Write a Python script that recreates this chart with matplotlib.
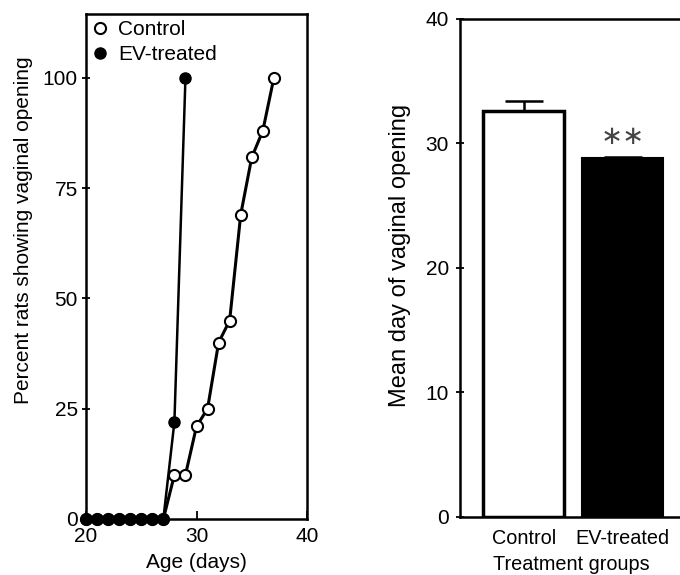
import matplotlib
matplotlib.use("Agg")
import matplotlib.pyplot as plt
from matplotlib.lines import Line2D

plt.rcParams['font.family'] = ['Liberation Sans', 'DejaVu Sans']

# Left panel data
ev_days = [20, 21, 22, 23, 24, 25, 26, 27, 28, 29]
ev_pct = [0, 0, 0, 0, 0, 0, 0, 0, 22, 100]
ctrl_days = [20, 21, 22, 23, 24, 25, 26, 27, 28, 29, 30, 31, 32, 33, 34, 35, 36, 37]
ctrl_pct = [0, 0, 0, 0, 0, 0, 0, 0, 10, 10, 21, 25, 40, 45, 69, 82, 88, 100]
left_yticks = [0, 25, 50, 75, 100]
left_xticks = [20, 30, 40]

# Right panel data
groups = ["Control", "EV-treated"]
means = [32.6, 28.8]
errs = [0.8, 0.1]
right_yticks = [0, 10, 20, 30, 40]

FS = 15
W, H = 680, 575
fig = plt.figure(figsize=(6.8, 5.75), dpi=100)

# ---- Left panel ----
ax1 = fig.add_axes([86/W, 1-519/H, 221/W, 505/H])
ax1.plot(ctrl_days, ctrl_pct, color='black', lw=2.2, marker='o', ms=8,
         mfc='white', mec='black', mew=1.5, clip_on=False, zorder=3)
ax1.plot(ev_days, ev_pct, color='black', lw=1.8, marker='o', ms=8,
         mfc='black', mec='black', clip_on=False, zorder=4)
ax1.set_xlim(20, 40)
ax1.set_ylim(0, 114.5)
ax1.set_xticks(left_xticks)
ax1.set_yticks(left_yticks)
ax1.tick_params(axis='y', direction='inout', length=6, width=1.3, labelsize=FS, pad=3)
ax1.tick_params(axis='x', direction='in', length=6, width=1.3, labelsize=FS, pad=6)
for s in ax1.spines.values():
    s.set_linewidth(1.8)
ax1.set_xlabel("Age (days)", fontsize=FS, labelpad=5)
ax1.set_ylabel("Percent rats showing vaginal opening", fontsize=FS)
ax1.yaxis.set_label_coords((33 - 86) / 221, (519 - 230) / 505)
handles = [
    Line2D([], [], ls='none', marker='o', ms=8, mfc='white', mec='black', mew=1.5),
    Line2D([], [], ls='none', marker='o', ms=8, mfc='black', mec='black'),
]
ax1.legend(handles, ["Control", "EV-treated"], loc='upper left', frameon=False,
           fontsize=FS, handlelength=0.8, handletextpad=0.45, borderaxespad=0.1,
           labelspacing=0.3, borderpad=0.18)

# ---- Right panel ----
ax2 = fig.add_axes([460/W, 1-516.7/H, 222/W, (516.7-19)/H])
x = [0, 1]
ax2.bar(x[0], means[0], width=0.82, color='white', edgecolor='black', lw=2.5, zorder=2)
ax2.bar(x[1], means[1], width=0.82, color='black', edgecolor='black', lw=1.5, zorder=2)
ax2.errorbar(x, means, yerr=[[0, 0], errs], fmt='none', ecolor='black',
             elinewidth=1.8, capsize=14, capthick=1.8, zorder=1)
ax2.text(x[1], 30.5, "\u2217\u2217", ha='center', va='center', fontsize=19,
         color='#444444', family='DejaVu Sans')
ax2.set_xlim(-0.644, 1.6)
ax2.set_ylim(0, 40)
ax2.set_xticks(x)
ax2.set_xticklabels(groups)
ax2.set_yticks(right_yticks)
ax2.tick_params(axis='y', direction='inout', length=6, width=1.3, labelsize=FS, pad=5)
ax2.tick_params(axis='x', length=0, labelsize=14.3, pad=9)
for s in ax2.spines.values():
    s.set_linewidth(1.8)
ax2.spines['right'].set_visible(False)
ax2.set_xlabel("Treatment groups", fontsize=14.3, labelpad=5)
ax2.set_ylabel("Mean day of vaginal opening", fontsize=17)
ax2.yaxis.set_label_coords((411 - 460) / 222, (516.7 - 255) / 497.7)

fig.savefig("out.png", dpi=100)
